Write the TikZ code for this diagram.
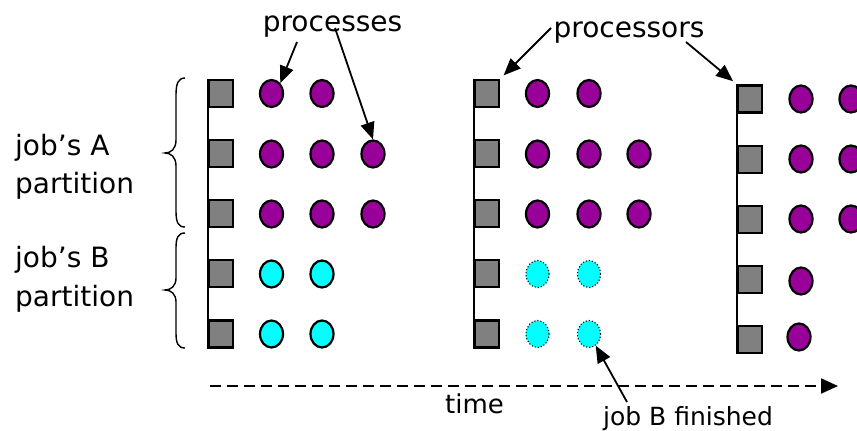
\documentclass[tikz,border=0pt]{standalone}
\usepackage{fontspec}
\setmainfont{DejaVu Sans}
\usetikzlibrary{shapes.geometric,arrows.meta}
\definecolor{procpurple}{RGB}{153,0,153}
\definecolor{cpugray}{RGB}{128,128,128}
\definecolor{jobcyan}{RGB}{0,255,255}
\begin{document}
\begin{tikzpicture}[x=1pt,y=-1pt,
  cpu/.style={rectangle,draw=black,fill=cpugray,line width=2.2pt,minimum width=24pt,minimum height=27pt,inner sep=0pt},
  procA/.style={ellipse,draw=black,fill=procpurple,line width=2.2pt,minimum width=23pt,minimum height=27pt,inner sep=0pt},
  procB/.style={procA,fill=jobcyan},
  procBdone/.style={procB,line width=1.1pt,dotted},
  lbl/.style={font=\fontsize{28}{32}\selectfont,inner sep=0pt,anchor=base west},
  clbl/.style={lbl,anchor=base},
  ptr/.style={line width=1.8pt,-{Triangle[length=17pt,width=14pt]}},
  rail/.style={line width=1.8pt},
  brc/.style={line width=1.4pt},
  timeline/.style={line width=2pt,dash pattern=on 11pt off 6pt,-{Triangle[length=17pt,width=15pt]}}
]
\clip (0,0) rectangle (857,431);

% processors (squares)
\foreach \g/\x/\yy in {1/221/93.5, 2/487/93.5, 3/750/99}
  \foreach \r in {1,...,5}
    \node[cpu] (q\g\r) at (\x,{\yy+60.1*(\r-1)}) {};
\foreach \g in {1,2,3}
  \draw[rail] (q\g1.north west) -- (q\g5.south west);

% group 1 processes
\foreach \r/\yy in {1/93.5}
  \foreach \c/\x in {1/271.5,2/322}
    \node[procA] (p1\r\c) at (\x,\yy) {};
\foreach \r/\yy in {2/154,3/214}
  \foreach \c/\x in {1/271.5,2/322,3/373}
    \node[procA] (p1\r\c) at (\x,\yy) {};
\foreach \r/\yy in {4/274,5/334}
  \foreach \c/\x in {1/271.5,2/322}
    \node[procB] (p1\r\c) at (\x,\yy) {};

% group 2 processes
\foreach \r/\yy in {1/93.5}
  \foreach \c/\x in {1/537.5,2/589}
    \node[procA] (p2\r\c) at (\x,\yy) {};
\foreach \r/\yy in {2/154,3/214}
  \foreach \c/\x in {1/537.5,2/589,3/639}
    \node[procA] (p2\r\c) at (\x,\yy) {};
\foreach \r/\yy in {4/274,5/334}
  \foreach \c/\x in {1/537.5,2/589}
    \node[procBdone] (p2\r\c) at (\x,\yy) {};

% group 3 processes
\foreach \r/\yy in {1/99,2/159,3/219}
  \foreach \c/\x in {1/801,2/851}
    \node[procA] (p3\r\c) at (\x,\yy) {};
\node[procA] (p341) at (801,281) {};
\node[procA] (p351) at (799,337) {};

% braces
\draw[brc] (185,78) .. controls (178,78) and (176,84) .. (176,95) -- (176,140)
  .. controls (176,149) and (171,153) .. (165,153)
  .. controls (171,153) and (176,157) .. (176,166) -- (176,211)
  .. controls (176,222) and (178,227) .. (185,227);
\draw[brc] (185,233) .. controls (178,233) and (176,238) .. (176,248) -- (176,278)
  .. controls (176,286) and (171,290) .. (165,290)
  .. controls (171,290) and (176,294) .. (176,302) -- (176,333)
  .. controls (176,343) and (178,348) .. (185,348);

% labels
\node[lbl] (jobA) at (15,155) {job's A};
\node[lbl] (partA) at (15,193) {partition};
\node[lbl] (jobB) at (15,267) {job's B};
\node[lbl] (partB) at (15,306) {partition};
\node[clbl] (procs) at (332.5,31) {processes};
\node[clbl] (cpus) at (629,37) {processors};
\node[clbl,font=\fontsize{26}{30}\selectfont] (time) at (474.5,413) {time};
\node[clbl,font=\fontsize{25}{30}\selectfont] (done) at (688,425) {job B finished};

% connector ends
\coordinate (pa1) at (297,42);
\coordinate (pa2) at (335,28);
\coordinate (ca1) at (551,28);
\coordinate (ca2) at (686,42);
\coordinate (da) at (627,402);
\coordinate (t0) at (210,386);
\coordinate (t1) at (838,386);

\draw[ptr] (pa1) -- (p111.50);
\draw[ptr] (pa2) -- (p123.north);
\draw[ptr,shorten >=5pt] (ca1) -- (q21.north east);
\draw[ptr,shorten >=5pt] (ca2) -- (q31.north west);
\draw[ptr] (da) -- (p252.-60);
\draw[timeline] (t0) -- (t1);
\end{tikzpicture}
\end{document}
